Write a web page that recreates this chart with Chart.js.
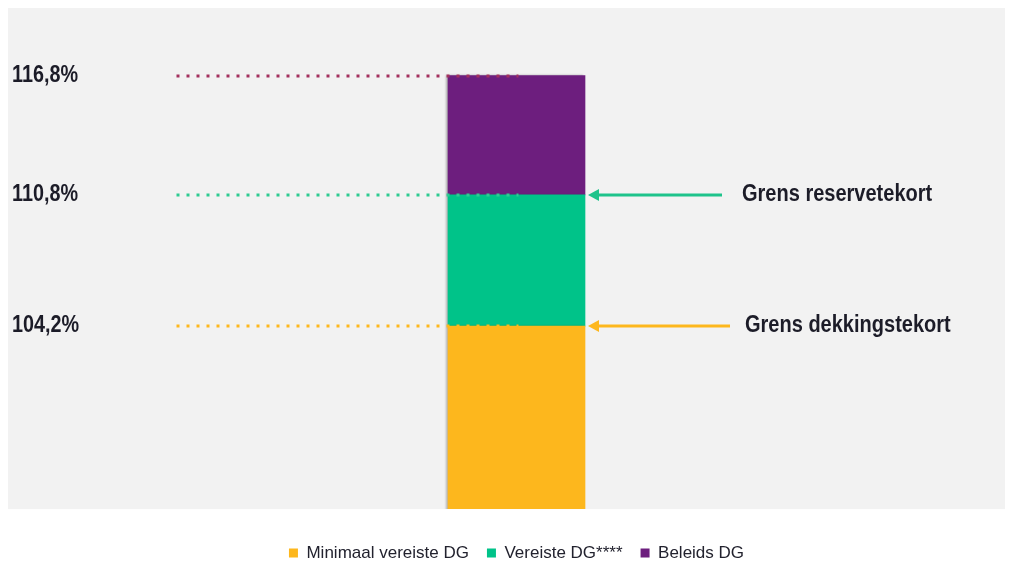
<!DOCTYPE html>
<html><head><meta charset="utf-8">
<script src="https://cdn.jsdelivr.net/npm/chart.js@4/dist/chart.umd.min.js"></script>
<style>html,body{margin:0;padding:0;background:#fff}#wrap{width:1012px;height:565px;position:relative}</style>
</head><body><div id="wrap"><canvas id="c"></canvas></div>
<script>
const categories = ['DG'];
const seriesNames = ['Minimaal vereiste DG', 'Vereiste DG****', 'Beleids DG'];
const levelValues = [104.2, 110.8, 116.8];
const levelLabels = ['104,2%', '110,8%', '116,8%'];
const minimaalValues = [104.2];
const vereisteValues = [6.6];
const beleidsValues = [6.0];
const seriesColors = ['#FDB71D', '#00C389', '#6D1E7E'];
const levelLineColors = ['#FDB71D', '#2ECB92', '#A3305E'];
const boundaryLevels = [110.8, 104.2];
const boundaryLabels = ['Grens reservetekort', 'Grens dekkingstekort'];
const boundaryColors = ['#1EC38B', '#FDB71D'];
const yMin = 95, yMax = 120.2;

const FONT = '"Liberation Sans", Arial, sans-serif';

function narrowText(ctx, text, x, y, sx) {
  ctx.save();
  ctx.translate(x, y);
  ctx.scale(sx, 1);
  ctx.fillText(text, 0, 0);
  ctx.restore();
}

const bgPlugin = {
  id: 'bg',
  beforeDraw(chart) {
    const {ctx, chartArea} = chart;
    ctx.save();
    ctx.fillStyle = '#F2F2F2';
    ctx.fillRect(chartArea.left - 20, chartArea.top, chartArea.right - chartArea.left + 20, chartArea.bottom - chartArea.top);
    ctx.restore();
  },
  beforeDatasetsDraw(chart) {
    const ctx = chart.ctx;
    ctx.save();
    ctx.shadowColor = 'rgba(0,0,0,0.28)';
    ctx.shadowOffsetX = -2;
    ctx.shadowBlur = 2;
  },
  afterDatasetsDraw(chart) {
    const ctx = chart.ctx;
    ctx.restore();
    const y = chart.scales.y;
    const bar = chart.getDatasetMeta(0).data[0];
    const barRight = bar.x + bar.width / 2;
    ctx.save();
    ctx.font = 'bold 23px ' + FONT;
    ctx.textAlign = 'left';
    ctx.textBaseline = 'middle';
    // dotted level lines + labels
    levelValues.forEach((v, i) => {
      const py = Math.round(y.getPixelForValue(v));
      ctx.strokeStyle = levelLineColors[i];
      ctx.lineWidth = 3;
      ctx.setLineDash([3, 7]);
      ctx.beginPath();
      ctx.moveTo(bar.x - 340, py);
      ctx.lineTo(bar.x + 2, py);
      ctx.stroke();
      ctx.setLineDash([]);
      ctx.fillStyle = '#1c1c28';
      narrowText(ctx, levelLabels[i], 12, py, 0.86);
    });
    // arrows + boundary labels
    boundaryLevels.forEach((v, i) => {
      const py = Math.round(y.getPixelForValue(v));
      const tip = barRight + 3;
      const tail = barRight + 137 + i * 8;
      ctx.strokeStyle = boundaryColors[i];
      ctx.fillStyle = boundaryColors[i];
      ctx.lineWidth = 3;
      ctx.beginPath();
      ctx.moveTo(tip + 8, py);
      ctx.lineTo(tail, py);
      ctx.stroke();
      ctx.beginPath();
      ctx.moveTo(tip, py);
      ctx.lineTo(tip + 11, py - 6);
      ctx.lineTo(tip + 11, py + 6);
      ctx.closePath();
      ctx.fill();
      ctx.fillStyle = '#1c1c28';
      narrowText(ctx, boundaryLabels[i], barRight + 157 + i * 3, py, 0.87);
    });
    ctx.restore();
  }
};

new Chart(document.getElementById('c'), {
  type: 'bar',
  data: {
    labels: categories,
    datasets: [
      {label: seriesNames[0], data: minimaalValues, backgroundColor: seriesColors[0]},
      {label: seriesNames[1], data: vereisteValues, backgroundColor: seriesColors[1]},
      {label: seriesNames[2], data: beleidsValues, backgroundColor: seriesColors[2]}
    ]
  },
  options: {
    responsive: true,
    maintainAspectRatio: false,
    animation: false,
    layout: {padding: {top: 8, left: 28, right: 7, bottom: -6.5}},
    datasets: {bar: {barThickness: 137, borderWidth: 0}},
    scales: {
      x: {stacked: true, display: false},
      y: {stacked: true, display: false, min: yMin, max: yMax}
    },
    plugins: {
      tooltip: {enabled: false},
      legend: {
        position: 'bottom',
        title: {display: true, text: ' ', font: {size: 2}, padding: {top: 15, bottom: 0}},
        labels: {
          boxWidth: 9, boxHeight: 9, padding: 18,
          color: '#22222e',
          font: {family: FONT, size: 17}
        }
      }
    }
  },
  plugins: [bgPlugin]
});
</script></body></html>
